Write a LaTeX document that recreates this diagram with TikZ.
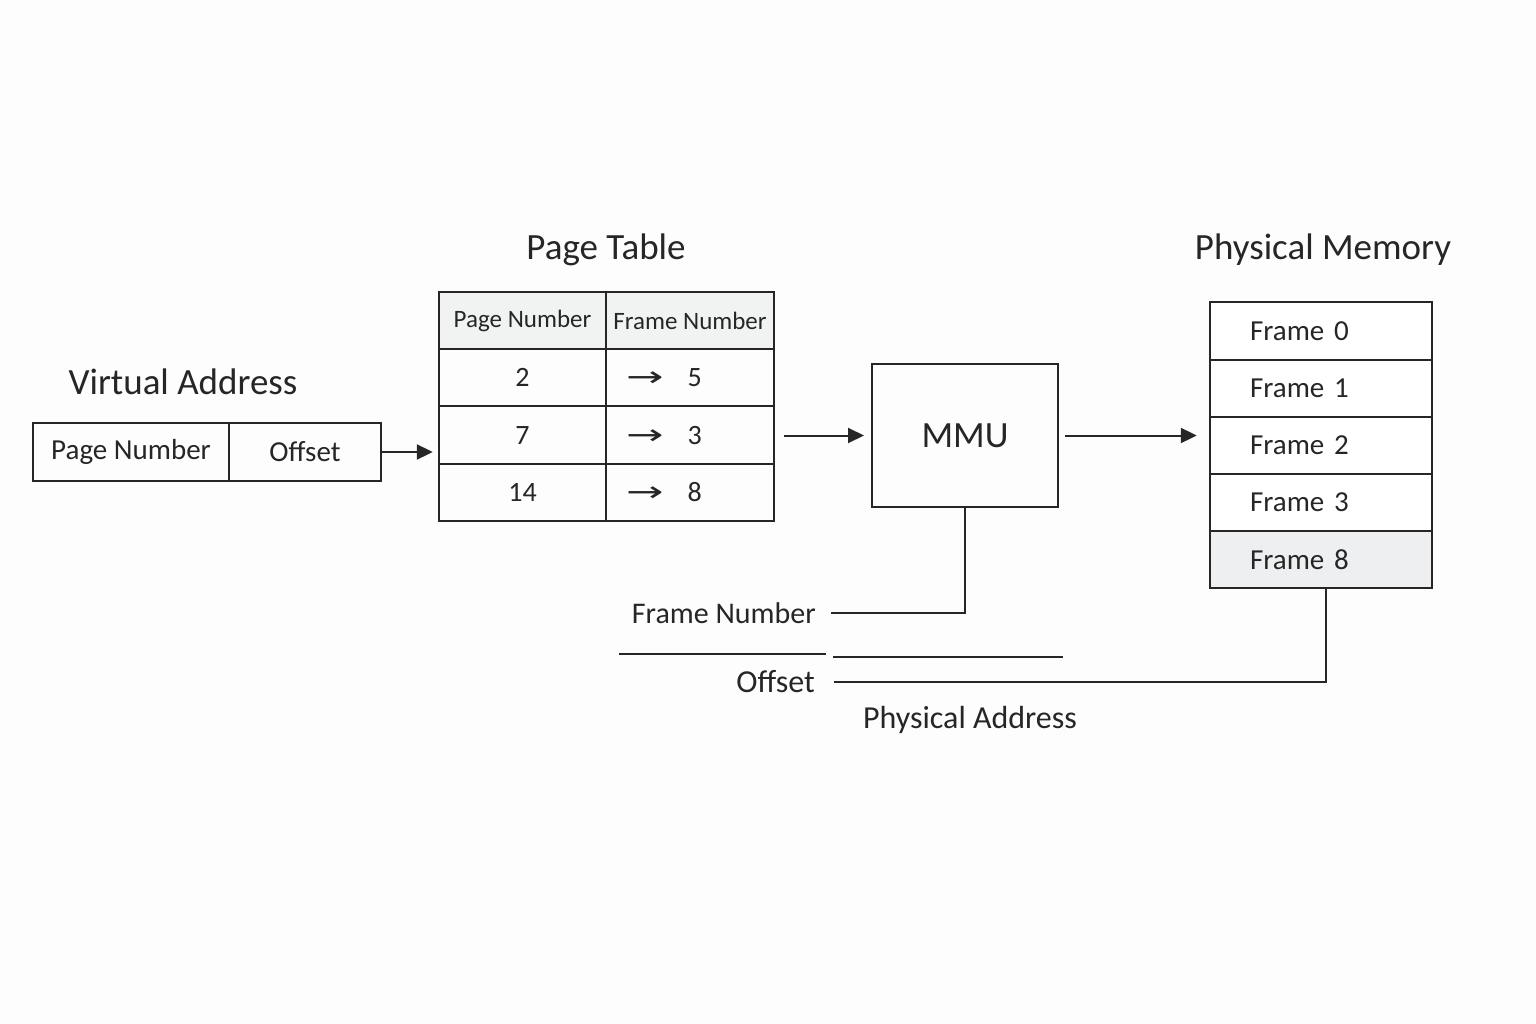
\documentclass[tikz,border=0pt]{standalone}
\usepackage{fontspec}
\setmainfont{Carlito}
\newfontfamily\symfont{DejaVu Sans}
\usetikzlibrary{arrows.meta,positioning,calc,fit}
\definecolor{ink}{HTML}{262626}
\definecolor{paper}{HTML}{FDFDFD}
\definecolor{headfill}{HTML}{F1F2F2}
\definecolor{memfill}{HTML}{EEEFF0}
\newcommand{\fs}[1]{\fontsize{#1}{#1}\selectfont}
\newcommand{\maparrow}{\scalebox{1.6}[1]{\symfont →}}

\begin{document}
\begin{tikzpicture}[x=1pt,y=-1pt,
  cell/.style={draw=ink,line width=2pt,minimum height=57.3,inner sep=0,outer sep=0,font=\fs{28},text=ink},
  ttl/.style={font=\fs{37},text=ink},
  lbl/.style={font=\fs{30},text=ink,inner sep=0},
  arr/.style={draw=ink,line width=2pt,-{Triangle[length=16pt,width=15pt]}},
  wire/.style={draw=ink,line width=2pt}]
  \fill[paper] (0,0) rectangle (1536,1024);
  \node[ttl] (vattl) at (183,382) {Virtual Address};
  \node[cell,minimum width=196,minimum height=58,font=\fs{29}] (vapn) at (131,452) {Page Number};
  \node[cell,minimum width=152,minimum height=58,font=\fs{29},right=0pt of vapn] (vaoff) {Offset};
  \node[ttl] (ptttl) at (606,250) {Page Table};
  \node[cell,fill=headfill,minimum width=167,font=\fs{25}] (hpn) at (522.5,320.5) {Page Number};
  \node[cell,fill=headfill,minimum width=168,font=\fs{25},right=0pt of hpn] (hfn) {Frame Number};
  \foreach \p/\f [count=\i] in {2/5,7/3,14/8} { \pgfmathsetmacro{\y}{320.5+57.3*\i} \node[cell,minimum width=167] (pn\i) at (522.5,\y) {\p}; \node[cell,minimum width=168,text width=128,align=left] (fn\i) at (690,\y) {\maparrow\hspace{24pt}\f}; }
  \node[fit=(hpn)(fn3),inner sep=0] (ptable) {};
  \node[cell,minimum width=186,minimum height=143,font=\fs{37}] (mmu) at (965,435.5) {\raisebox{-3pt}{MMU}};
  \node[ttl] (memttl) at (1323,250) {Physical Memory};
  \foreach \f/\c [count=\i from 0] in {0/white,1/white,2/white,3/white,8/memfill} { \pgfmathsetmacro{\y}{331+57.2*\i} \node[cell,fill=\c,minimum width=222,text width=142,align=left,font=\fs{29}] (fr\f) at (1321,\y) {Frame \f}; }
  \node[fit=(fr0)(fr8),inner sep=0] (mem) {};
  \draw[arr,shorten >=6pt] (vaoff.east) -- (vaoff.east -| ptable.west);
  \draw[arr,shorten <=10pt,shorten >=8pt] (mmu.west -| ptable.east) -- (mmu.west);
  \draw[arr,shorten <=7pt,shorten >=13pt] (mmu.east) -- (mmu.east -| mem.west);
  \node[lbl,anchor=east,inner xsep=15pt] (fnlbl) at (831,613) {Frame Number};
  \draw[wire] (mmu.south) |- (fnlbl.east);
  \coordinate (sepa) at (619,654); \coordinate (sepb) at (826,654);
  \coordinate (sepc) at (833,657); \coordinate (sepd) at (1063,657);
  \draw[wire,line width=1.5pt] (sepa) -- (sepb) (sepc) -- (sepd);
  \node[lbl,anchor=east,inner xsep=19pt,font=\fs{32}] (offlbl) at (834,682) {Offset};
  \draw[wire,line width=2.6pt] (offlbl.east) -| ([xshift=5pt]mem.south);
  \node[lbl,font=\fs{32}] (palbl) at (970,720) {Physical Address};
\end{tikzpicture}
\end{document}
